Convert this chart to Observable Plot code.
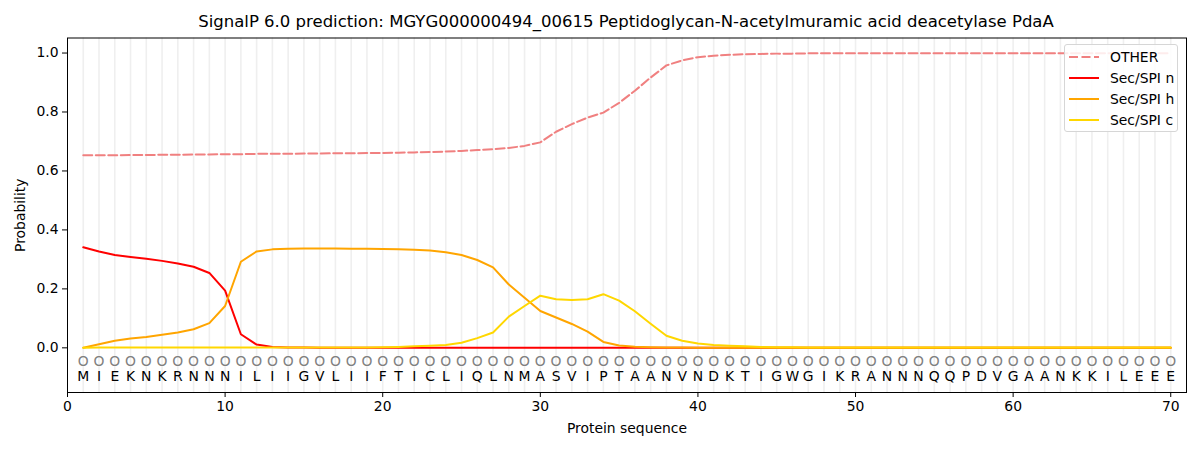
<!DOCTYPE html>
<html>
<head>
<meta charset="utf-8">
<script src="https://cdn.jsdelivr.net/npm/d3@7"></script>
<script src="https://cdn.jsdelivr.net/npm/@observablehq/plot@0.6"></script>
<style>
  body { margin: 0; background: #fff; font-family: "DejaVu Sans", sans-serif; }
  #wrap { position: relative; width: 1200px; height: 450px; overflow: hidden; background: #fff; }
  #title { position: absolute; left: 67px; top: 0; width: 1118px; height: 30px; box-sizing: border-box; z-index: 2;
           padding-top: 13px; line-height: 17px; text-align: center; font-size: 16.5px; color: #000; white-space: nowrap; }
  #chart { position: absolute; left: 0; top: 30px; z-index: 1; }
  #legend { position: absolute; left: 1064px; top: 44px; width: 114px; height: 88px; box-sizing: border-box; z-index: 3;
            border: 1px solid #d6d6d6; border-radius: 3px; background: rgba(255,255,255,0.85); }
  .row { position: absolute; left: 0; height: 20px; width: 112px; font-size: 13.9px; line-height: 20px; color: #000; }
  .row svg { position: absolute; left: 4px; top: 0; }
  .row span { position: absolute; left: 45px; top: 0; white-space: nowrap; }
</style>
</head>
<body>
<div id="wrap">
  <div id="title">SignalP 6.0 prediction: MGYG000000494_00615 Peptidoglycan-N-acetylmuramic acid deacetylase PdaA</div>
  <div id="chart"></div>
  <div id="legend"></div>
</div>
<script>
// ---- data ----
const residues = ["M","I","E","K","N","K","R","N","N","N","I","L","I","I","G","V","L","I","I","F",
  "T","I","C","L","I","Q","L","N","M","A","S","V","I","P","T","A","A","N","V","N",
  "D","K","T","I","G","W","G","I","K","R","A","N","N","N","Q","Q","P","D","V","G",
  "A","A","N","K","K","I","L","E","E","E"];

const other = [0.653,0.653,0.653,0.654,0.654,0.655,0.655,0.656,0.656,0.657,
  0.657,0.658,0.658,0.658,0.659,0.659,0.660,0.660,0.661,0.661,
  0.662,0.663,0.664,0.666,0.668,0.671,0.674,0.678,0.685,0.697,
  0.733,0.759,0.781,0.798,0.831,0.872,0.917,0.958,0.975,0.986,
  0.991,0.994,0.996,0.997,0.998,0.998,0.999,0.999,0.999,0.999,
  0.999,0.999,0.999,0.999,0.999,0.999,0.999,0.999,0.999,0.999,
  0.999,0.999,0.999,0.999,0.999,0.999,0.999,0.999,0.999,0.999];

const secN = [0.341,0.327,0.315,0.308,0.302,0.295,0.286,0.275,0.254,0.194,
  0.046,0.011,0.003,0.001,0.001,0.000,0.000,0.000,0.000,0.000,
  0.000,0.000,0.000,0.000,0.000,0.000,0.000,0.000,0.000,0.000,
  0.000,0.000,0.000,0.000,0.000,0.000,0.000,0.000,0.000,0.000,
  0.000,0.000,0.000,0.000,0.000,0.000,0.000,0.000,0.000,0.000,
  0.000,0.000,0.000,0.000,0.000,0.000,0.000,0.000,0.000,0.000,
  0.000,0.000,0.000,0.000,0.000,0.000,0.000,0.000,0.000,0.000];

const secH = [0.000,0.012,0.024,0.032,0.037,0.044,0.052,0.063,0.084,0.142,
  0.292,0.327,0.334,0.336,0.337,0.337,0.337,0.336,0.336,0.335,
  0.334,0.333,0.330,0.324,0.315,0.298,0.273,0.215,0.170,0.125,
  0.103,0.081,0.055,0.020,0.008,0.004,0.002,0.001,0.001,0.000,
  0.000,0.000,0.000,0.000,0.000,0.000,0.000,0.000,0.000,0.000,
  0.000,0.000,0.000,0.000,0.000,0.000,0.000,0.000,0.000,0.000,
  0.000,0.000,0.000,0.000,0.000,0.000,0.000,0.000,0.000,0.000];

const secC = [0.000,0.001,0.001,0.001,0.001,0.001,0.001,0.001,0.001,0.001,
  0.001,0.001,0.001,0.001,0.001,0.001,0.001,0.001,0.001,0.002,
  0.003,0.005,0.007,0.010,0.017,0.033,0.052,0.106,0.142,0.177,
  0.165,0.162,0.165,0.182,0.160,0.124,0.082,0.041,0.024,0.015,
  0.010,0.007,0.005,0.003,0.002,0.002,0.001,0.001,0.001,0.001,
  0.001,0.001,0.001,0.001,0.001,0.001,0.001,0.001,0.001,0.001,
  0.001,0.001,0.001,0.001,0.001,0.001,0.001,0.001,0.001,0.001];

const seriesNames = ["OTHER", "Sec/SPI n", "Sec/SPI h", "Sec/SPI c"];
const seriesColors = ["#f08080", "#ff0000", "#ffa500", "#ffd700"];
const seriesValues = [other, secN, secH, secC];
const xTicks = [0, 10, 20, 30, 40, 50, 60, 70];
const yTicks = [0.0, 0.2, 0.4, 0.6, 0.8, 1.0];
const circleRow = -0.046;
const letterRow = -0.098;

// ---- build ----
const positions = residues.map((_, i) => i + 1);
const rows = [];
seriesValues.forEach((vals, s) => vals.forEach((v, i) => rows.push({pos: i + 1, p: v, series: seriesNames[s]})));

const lineMarks = seriesNames.map((name, s) =>
  Plot.line(rows.filter(r => r.series === name), {
    x: "pos", y: "p", stroke: seriesColors[s], strokeWidth: 2,
    strokeDasharray: s === 0 ? "9,3.5" : null
  })
);

const chart = Plot.plot({
  width: 1200, height: 420,
  marginLeft: 67, marginRight: 14, marginTop: 7.5, marginBottom: 58,
  style: {fontFamily: "DejaVu Sans, sans-serif", fontSize: "13.9px", color: "#000", background: "transparent"},
  x: {domain: [0, 71]},
  y: {domain: [-0.1515, 1.051]},
  marks: [
    Plot.ruleX(positions, {x: d => d, stroke: "#efefef", strokeWidth: 1.6}),
    ...lineMarks,
    Plot.text(residues, {x: (d, i) => i + 1, y: () => circleRow, text: () => "O", fill: "#808080", fontSize: 13.9}),
    Plot.text(residues, {x: (d, i) => i + 1, y: () => letterRow, text: d => d, fill: "#000", fontSize: 13.9}),
    Plot.frame({stroke: "#000", strokeWidth: 1}),
    Plot.axisX({ticks: xTicks, tickFormat: d => String(d), tickSize: 5, tickPadding: 4,
      label: "Protein sequence", labelAnchor: "center", labelArrow: "none", labelOffset: 40}),
    Plot.axisY({ticks: yTicks, tickFormat: d => d.toFixed(1), tickSize: 5, tickPadding: 4,
      label: "Probability", labelAnchor: "center", labelArrow: "none", labelOffset: 52})
  ]
});
document.getElementById("chart").appendChild(chart);

// legend
const legend = document.getElementById("legend");
seriesNames.forEach((name, s) => {
  const row = document.createElement("div");
  row.className = "row";
  row.style.top = (1.5 + s * 21.3) + "px";
  const dash = s === 0 ? ' stroke-dasharray="9,3.5"' : "";
  row.innerHTML = `<svg width="32" height="20"><line x1="0" x2="30" y1="10" y2="10" stroke="${seriesColors[s]}" stroke-width="2"${dash}/></svg><span>${name}</span>`;
  legend.appendChild(row);
});
</script>
</body>
</html>
